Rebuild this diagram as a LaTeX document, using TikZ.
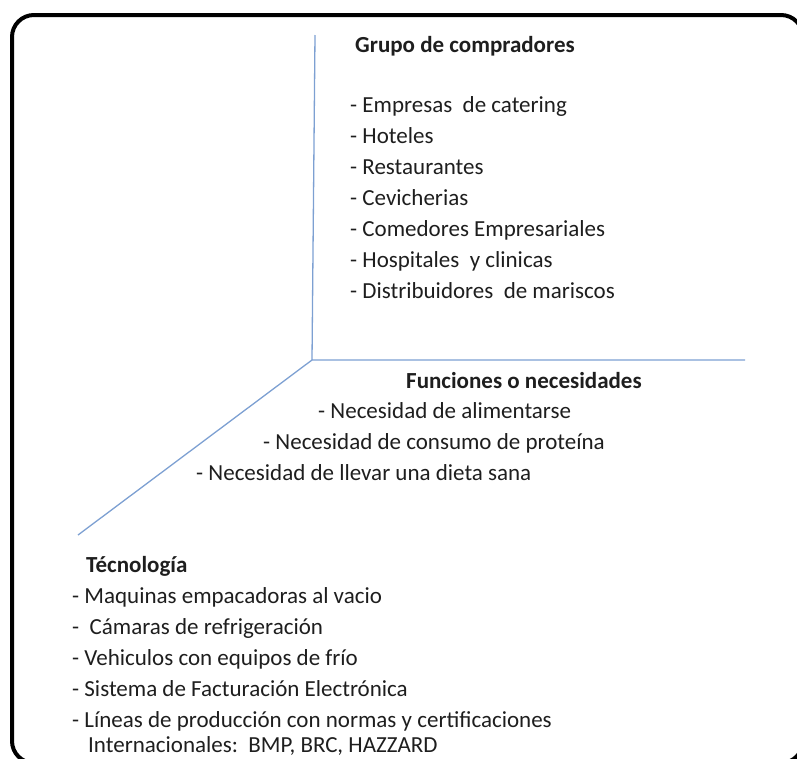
\documentclass[tikz,border=0pt]{standalone}
\usepackage{fontspec}
\setmainfont{Carlito}
\usetikzlibrary{positioning}
\definecolor{axisblue}{RGB}{125,160,210}
\definecolor{txt}{RGB}{30,30,30}

\begin{document}
\begin{tikzpicture}[x=1pt, y=-1pt, every node/.style={font=\fontsize{23}{27}\selectfont, text=txt, inner sep=0pt, anchor=base west}, head/.style={font=\fontsize{23}{27}\selectfont\bfseries}, axis/.style={axisblue, line width=1.3pt}]
	\clip (0,0) rectangle (797,758);
	\draw[line width=4pt, rounded corners=22pt] (12,15) rectangle (803,763);
	% axes
	\coordinate (o) at (312,360);
	\coordinate (up) at (315,35);
	\coordinate (rt) at (745,360);
	\coordinate (lf) at (78,535);
	\draw[axis] (up) -- (o) -- (rt);
	\draw[axis] (o) -- (lf);
	% compradores
	\node[head] (grupo) at (355,52) {Grupo de compradores};
	\foreach \i/\t in {1/{- Empresas\ \ de catering}, 2/{- Hoteles}, 3/{- Restaurantes}, 4/{- Cevicherias}, 5/{- Comedores Empresariales}, 6/{- Hospitales\ \ y clinicas}, 7/{- Distribuidores\ \ de mariscos}} {
		\node (c\i) at (350,81+\i*31) {\t};
	}
	% funciones
	\node[head] (func) at (406,388) {Funciones o necesidades};
	\node (f1) at (318,418) {- Necesidad de alimentarse};
	\node (f2) at (263,449) {- Necesidad de consumo de proteína};
	\node (f3) at (196,480) {- Necesidad de llevar una dieta sana};
	% tecnologia
	\node[head] (tec) at (86,572) {Técnología};
	\foreach \i/\t in {1/{- Maquinas empacadoras al vacio}, 2/{-\ \ Cámaras de refrigeración}, 3/{- Vehiculos con equipos de frío}, 4/{- Sistema de Facturación Electrónica}, 5/{- Líneas de producción con normas y certificaciones}} {
		\node (t\i) at (72,572+\i*31) {\t};
	}
	\node (t6) at (88,752) {Internacionales:\ \ BMP, BRC, HAZZARD};
\end{tikzpicture}
\end{document}
